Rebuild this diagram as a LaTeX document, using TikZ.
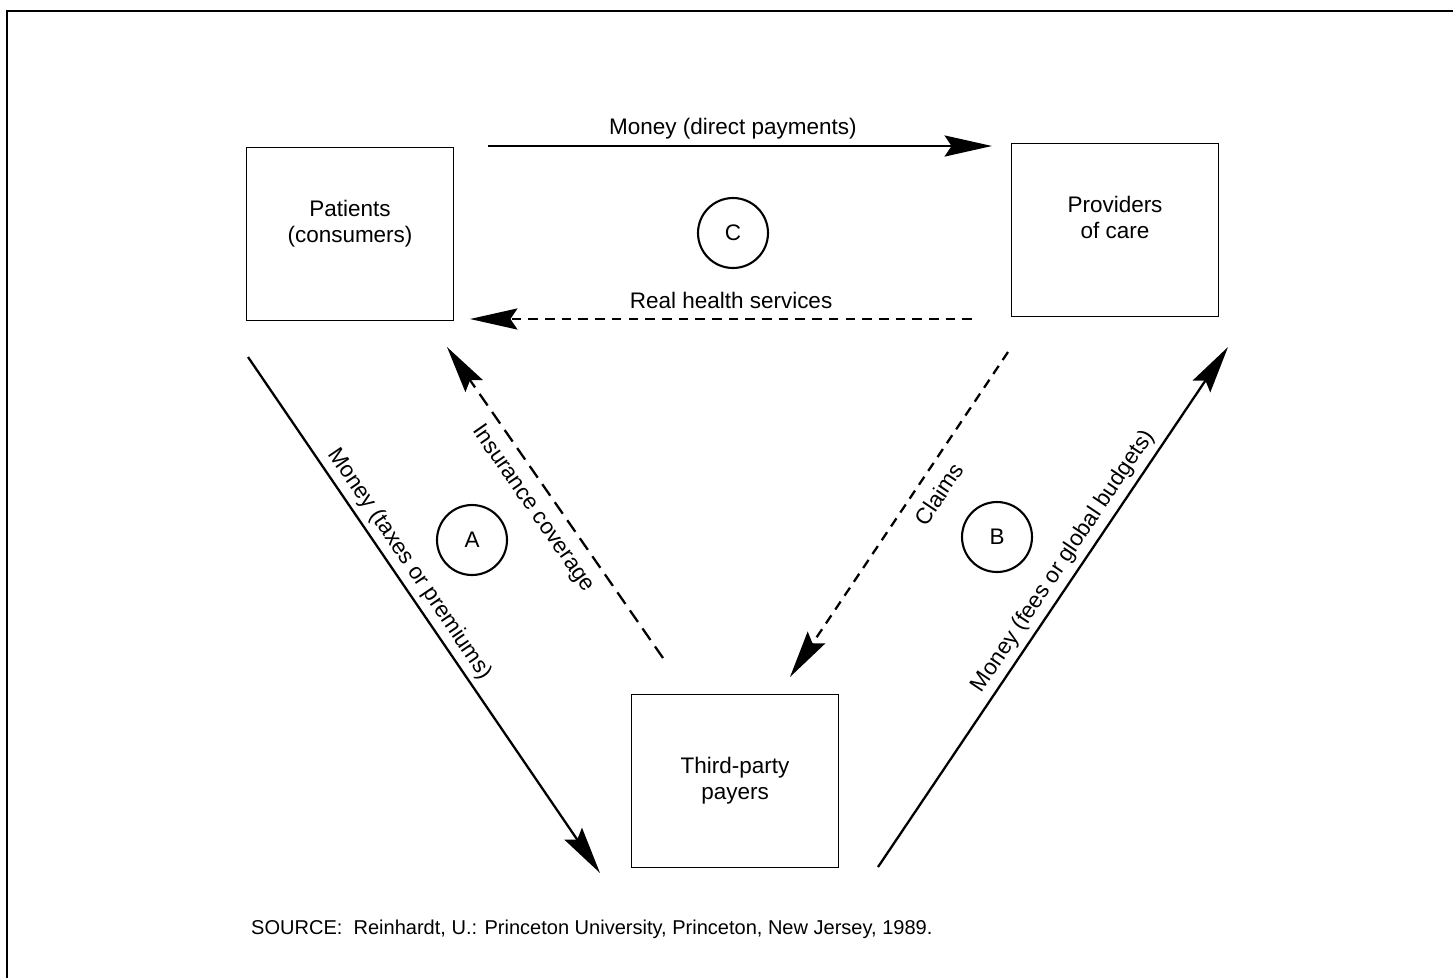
\documentclass[tikz,border=0pt]{standalone}
\usepackage{fontspec}
\setmainfont{Liberation Sans}
\usetikzlibrary{arrows.meta}
\begin{document}
\begin{tikzpicture}[x=0.02cm,y=-0.02cm,
  box/.style={draw,line width=0.9pt,minimum width=4.14cm,minimum height=3.46cm,align=center,font=\fontsize{12.8}{14.7}\selectfont},
  tag/.style={draw,circle,line width=1.2pt,minimum size=1.4cm,inner sep=0pt,font=\fontsize{12.8}{14.7}\selectfont},
  flow/.style={line width=1.3pt,-{Stealth[length=27pt,width=12pt,inset=4pt]}},
  dashflow/.style={flow,dash pattern=on 5.5pt off 4pt},
  lbl/.style={font=\fontsize{12.8}{14.7}\selectfont,inner sep=3pt}]
\useasboundingbox (0,0) rectangle (1453,978);
\draw[line width=1.2pt] (7,978) -- (7,11) -- (1453,11);
\node[box] (pat) at (350,234) {Patients\\(consumers)\\\mbox{}};
\node[box] (prov) at (1115,230) {Providers\\of care\\\mbox{}};
\node[box] (third) at (735,781) {Third-party\\payers};
\node[tag] (c) at (733,233) {C};
\node[tag] (a) at (472,540) {A};
\node[tag] (b) at (997,537) {B};
\coordinate (md0) at (488,146);
\coordinate (md1) at (992,146);
\coordinate (rh0) at (972,319);
\coordinate (rh1) at (470,319);
\coordinate (mt0) at (248,357);
\coordinate (mt1) at (600,873);
\coordinate (ic0) at (663,658);
\coordinate (ic1) at (447,347);
\coordinate (cl0) at (1008,352);
\coordinate (cl1) at (790,677);
\coordinate (mf0) at (878,867);
\coordinate (mf1) at (1228,347);
\draw[flow] (md0) -- node[lbl,above,pos=0.486] {Money (direct payments)} (md1);
\draw[dashflow] (rh0) -- node[lbl,above=2pt,pos=0.48] {Real health services} (rh1);
\draw[flow] (mt0) -- node[lbl,above,sloped,pos=0.42] {Money (taxes or premiums)} (mt1);
\draw[dashflow,dash pattern=on 8pt off 4.5pt] (ic0) -- node[lbl,below=3pt,sloped,pos=0.52] {Insurance coverage} (ic1);
\draw[dashflow] (cl0) -- node[lbl,below=4pt,sloped,pos=0.40] {Claims} (cl1);
\draw[flow] (mf0) -- node[lbl,above,sloped,pos=0.57] {Money (fees or global budgets)} (mf1);
\node[anchor=west,font=\fontsize{11.4}{13}\selectfont] (src) at (245,929) {SOURCE:\ \ Reinhardt, U.: Princeton University, Princeton, New Jersey, 1989.};
\end{tikzpicture}
\end{document}
